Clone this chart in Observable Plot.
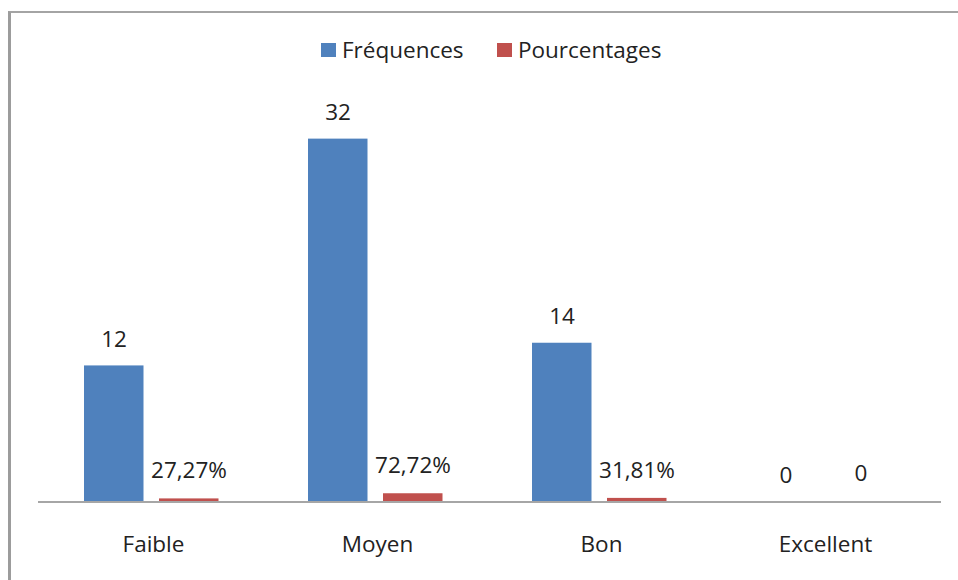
<!DOCTYPE html>
<html>
<head>
<meta charset="utf-8">
<script src="https://cdn.jsdelivr.net/npm/d3@7"></script>
<script src="https://cdn.jsdelivr.net/npm/@observablehq/plot@0.6"></script>
<style>
  html, body { margin: 0; padding: 0; background: #fff; }
  #wrap { position: relative; width: 958px; height: 580px; overflow: hidden; font-family: "Open Sans", sans-serif; }
  #frame { position: absolute; left: 8px; top: 11px; width: 2000px; height: 2000px;
           border-left: 3px solid #9c9c9c; border-top: 2px solid #a4a4a4; pointer-events: none; }
  #legend { position: relative; height: 80px; }
  .item { position: absolute; top: 34px; display: flex; align-items: center; font-size: 22.5px; color: #222; }
  .sw { width: 15px; height: 14px; margin-right: 6px; }
  #chart { position: relative; }
</style>
</head>
<body>
<div id="wrap">
  <div id="legend"></div>
  <div id="chart"></div>
  <div id="frame"></div>
</div>
<script>
const categories = ["Faible", "Moyen", "Bon", "Excellent"];
const series = ["Fréquences", "Pourcentages"];
const colors = ["#4f81bd", "#c0504d"];
const frequences = [12, 32, 14, 0];
const pourcentages = [0.2727, 0.7272, 0.3181, 0];
const frequenceLabels = ["12", "32", "14", "0"];
const pourcentageLabels = ["27,27%", "72,72%", "31,81%", "0"];

const freqRows = categories.map((c, i) => ({category: c, serie: series[0], value: frequences[i], label: frequenceLabels[i]}));
const pctRows = categories.map((c, i) => ({category: c, serie: series[1], value: pourcentages[i], label: pourcentageLabels[i]}));

// Legend (HTML, above the SVG)
const legend = document.getElementById("legend");
const legendLeft = [321, 497];
series.forEach((s, i) => {
  const it = document.createElement("div");
  it.className = "item";
  it.style.left = legendLeft[i] + "px";
  const sw = document.createElement("span");
  sw.className = "sw";
  sw.style.background = colors[i];
  const tx = document.createElement("span");
  tx.textContent = s;
  it.appendChild(sw);
  it.appendChild(tx);
  legend.appendChild(it);
});

const chart = Plot.plot({
  width: 958,
  height: 500,
  marginLeft: 38,
  marginRight: 17,
  marginTop: 24.6,
  marginBottom: 78.5,
  style: {fontFamily: "Open Sans, sans-serif", fontSize: "22.5px", color: "#222", background: "transparent", overflow: "visible"},
  x: {domain: categories, paddingInner: 0, paddingOuter: 0.011, align: 0.4, tickSize: 0, tickPadding: 34.5, label: null},
  y: {domain: [0, 35], axis: null},
  color: {domain: series, range: colors},
  marks: [
    Plot.barY(freqRows, {x: "category", y: "value", fill: colors[0], insetLeft: 43, insetRight: 121.5}),
    Plot.barY(pctRows, {x: "category", y: "value", fill: colors[1], insetLeft: 118, insetRight: 46.5}),
    Plot.ruleY([0], {stroke: "#a6a6a6", strokeWidth: 2}),
    Plot.text(freqRows, {x: "category", y: "value", text: "label", dx: -39.5, dy: -26, fill: "#222", fontSize: 22.5}),
    Plot.text(pctRows, {x: "category", y: "value", text: "label", dx: 35.5, dy: -28, fill: "#222", fontSize: 22.5})
  ]
});
document.getElementById("chart").appendChild(chart);
</script>
</body>
</html>
